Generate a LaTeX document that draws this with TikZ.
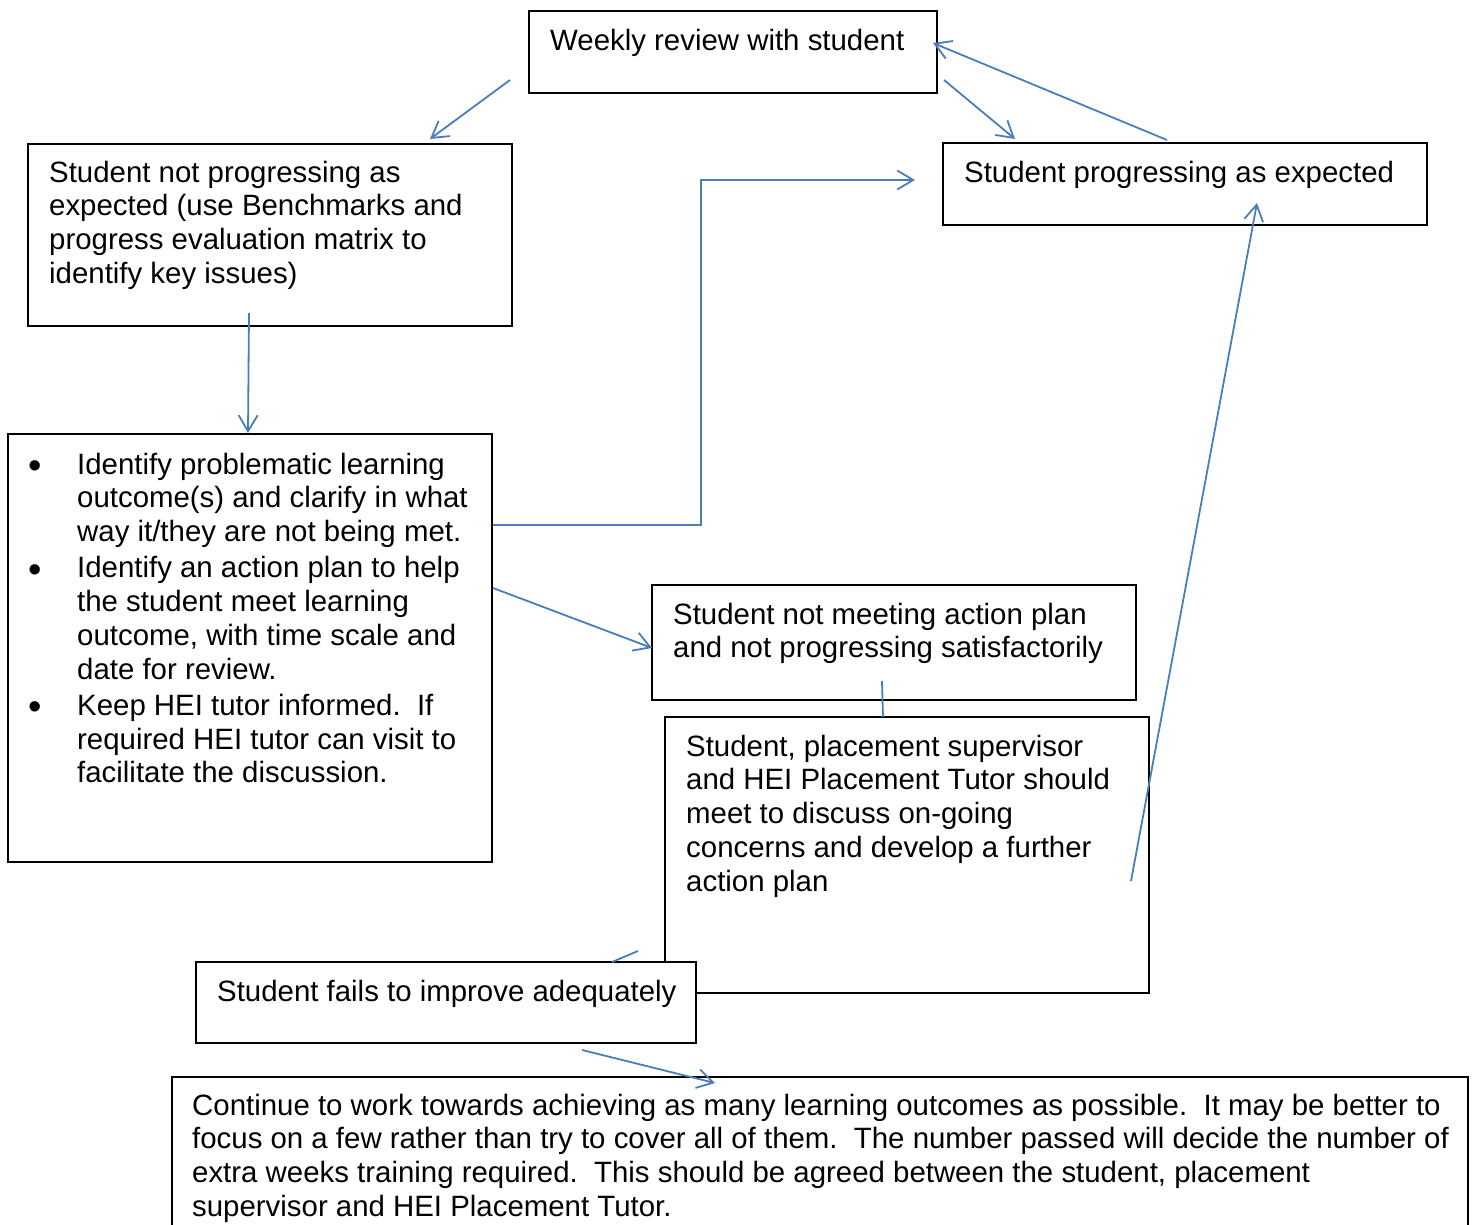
\documentclass[tikz,border=0pt]{standalone}
\usepackage{fontspec}
\setmainfont{Liberation Sans}
\usetikzlibrary{arrows.meta}
\definecolor{arrowblue}{HTML}{4A7EBB}
\newcommand{\bigbul}{\llap{\raisebox{-4.3pt}{\scalebox{1.3}{\textbullet}}\hspace{35.3pt}}}
\begin{document}
\begin{tikzpicture}[x=1pt,y=-1pt,
  box/.style={draw=black,line width=2pt,fill=white,inner sep=0pt,rectangle},
  txt/.style={anchor=north west,inner sep=0pt,align=left,font=\fontsize{29.4}{33.8}\selectfont},
  conn/.style={draw=arrowblue,line width=1.8pt},
  arr/.style={conn,-{Straight Barb[length=16pt,width=19pt]}}]
\path[use as bounding box,clip] (0,0) rectangle (1478,1225);
% boxes
\node[box,minimum width=408pt,minimum height=82pt] (weekly) at (733,52) {};
\node[box,minimum width=484pt,minimum height=182pt] (notprog) at (270,235) {};
\node[box,minimum width=484pt,minimum height=82pt] (prog) at (1185,184) {};
\node[box,minimum width=484pt,minimum height=428pt] (bullets) at (250,648) {};
\node[box,minimum width=484pt,minimum height=115pt] (notmeet) at (894,642.5) {};
\node[box,minimum width=484pt,minimum height=276pt] (meet) at (907,855) {};
\node[box,minimum width=500pt,minimum height=81pt] (fails) at (446,1002.5) {};
\node[box,minimum width=1296pt,minimum height=223pt] (cont) at (820,1188.5) {};
% texts
\node[txt] (weeklyT) at (550,26.3) {\strut Weekly review with student};
\node[txt] (notprogT) at (49,158.3) {\strut Student not progressing as\\expected (use Benchmarks and\\progress evaluation matrix to\\identify key issues)};
\node[txt] (progT) at (964,158.3) {\strut Student progressing as expected};
\node[txt] (bulletsT) at (77,450.3) {\strut\bigbul Identify problematic learning\\outcome(s) and clarify in what\\way it/they are not being met.\\[2.3pt]
\bigbul Identify an action plan to help\\the student meet learning\\outcome, with time scale and\\date for review.\\[2.3pt]
\bigbul Keep HEI tutor informed.\ \ If\\required HEI tutor can visit to\\facilitate the discussion.};
\node[txt] (notmeetT) at (673,600.3) {\strut Student not meeting action plan\\and not progressing satisfactorily};
\node[txt] (meetT) at (686,732.3) {\strut Student, placement supervisor\\and HEI Placement Tutor should\\meet to discuss on-going\\concerns and develop a further\\action plan};
\node[txt] (failsT) at (217,977.3) {\strut Student fails to improve adequately};
\node[txt] (contT) at (192,1091.3) {\strut Continue to work towards achieving as many learning outcomes as possible.\ \ It may be better to\\focus on a few rather than try to cover all of them.\ \ The number passed will decide the number of\\extra weeks training required.\ \ This should be agreed between the student, placement\\supervisor and HEI Placement Tutor.};
% connector end points
\coordinate (a1) at (510,80);   \coordinate (a2) at (430,139);
\coordinate (b1) at (944,80);   \coordinate (b2) at (1015,139);
\coordinate (c1) at (1167,140); \coordinate (c2) at (933,43);
\coordinate (d1) at (249,313);  \coordinate (d2) at (248,433);
\coordinate (e1) at (493,525);  \coordinate (e2) at (701,525);
\coordinate (e3) at (701,180);  \coordinate (e4) at (915,180);
\coordinate (f1) at (493,588);  \coordinate (f2) at (652,648);
\coordinate (g1) at (1131,881); \coordinate (g2) at (1257,203);
\coordinate (h1) at (882,681);  \coordinate (h2) at (883,717);
\coordinate (i1) at (612,962);  \coordinate (i2) at (638,951);
\coordinate (j1) at (582,1050); \coordinate (j2) at (715,1083);
% connectors
\draw[arr] (a1) -- (a2);
\draw[arr] (b1) -- (b2);
\draw[arr] (c1) -- (c2);
\draw[arr] (d1) -- (d2);
\draw[arr] (e1) -- (e2) -- (e3) -- (e4);
\draw[arr] (f1) -- (f2);
\draw[arr] (g1) -- (g2);
\draw[conn] (h1) -- (h2);
\draw[conn] (i1) -- (i2);
\draw[arr] (j1) -- (j2);
\end{tikzpicture}
\end{document}
